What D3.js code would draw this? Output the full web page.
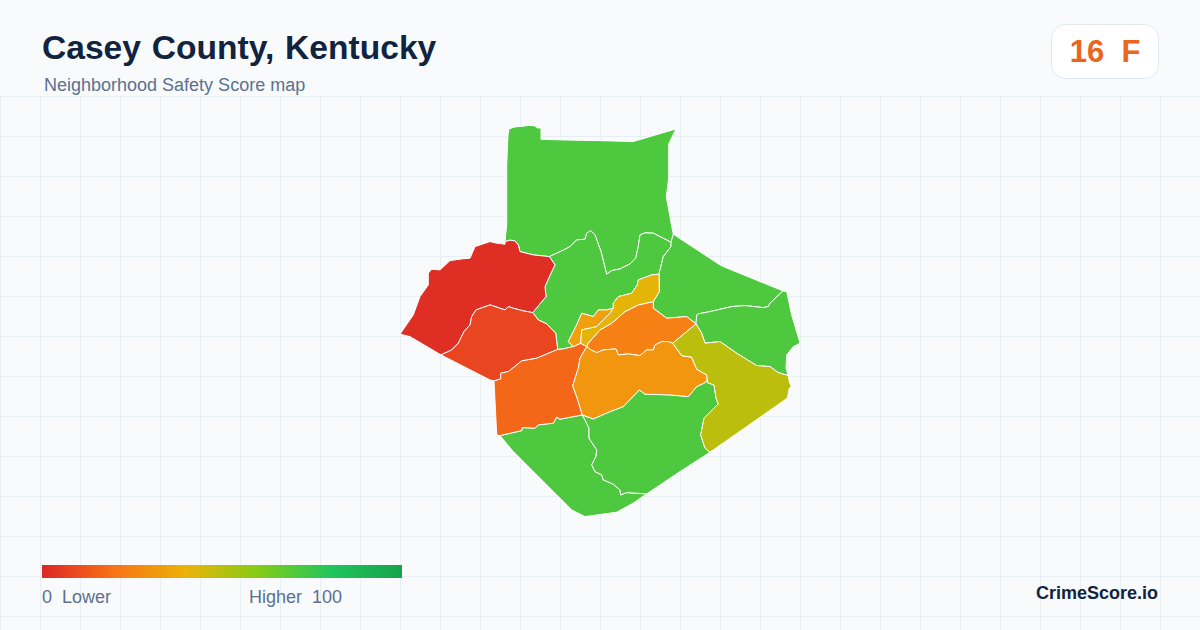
<!DOCTYPE html>
<html>
<head>
<meta charset="utf-8">
<script src="https://cdn.jsdelivr.net/npm/d3@7"></script>
<style>
  html, body { margin: 0; padding: 0; background: #f8fafc; }
  svg { display: block; font-family: "Liberation Sans", Arial, sans-serif; }
  text { white-space: pre; }
</style>
</head>
<body>
<script>
var titleText = 'Casey County, Kentucky';
var subtitleText = 'Neighborhood Safety Score map';
var badgeText = '16  F';
var brandText = 'CrimeScore.io';
var legendLabels = ['0  Lower', 'Higher  100'];

// colour ramp of the score
var rampDomain = [0, 20, 40, 60, 80, 100];
var rampColors = ['#dc2626', '#f97316', '#eab308', '#84cc16', '#22c55e', '#16a34a'];

// shared boundaries, in map units
var arcs = {
  north: [[105,116.7],[106.7,100],[106.7,40],[108,10],[109,4],[115,2],[130,0.5],[135,1],[137,3],[141,3],[141,14.5],[163,15],[210,16],[233,16.7],[276,4],[268.7,19],[268.7,51.7],[267.7,61.7],[266.3,71.7],[272.7,106.7],[273.3,109.3]],
  redTop: [[105,116.7],[110,115.3],[115,116],[118.3,120],[120,126.7],[133.3,130],[149.3,131.7]],
  ab: [[149.3,131.7],[161.7,126],[170,121.7],[176.7,115],[185,114.3],[186.7,108.3],[190.7,105.7],[195,110],[201,126.7],[206.7,149.3],[211.7,145.7],[220,144],[230,139],[235.7,133.3],[238.3,121.7],[240,110],[245,108],[253.3,108.3],[271,117.3]],
  adShort: [[271,117.3],[273.3,109.3]],
  bd: [[271,117.3],[271,121.7],[263.3,131.7],[260,145],[259,149.3]],
  stripNorth: [[259,149.3],[251.7,150],[238.3,155],[237.3,160],[231.7,168.3],[218.3,171.7],[213.3,178.3],[213.3,183.3]],
  ef: [[213.3,183.3],[210,188.3],[196.7,201.7],[181.7,205],[180.7,218.3]],
  eNorth: [[213.3,183.3],[206.7,185],[198.3,185],[193.3,191.7],[181.7,188.3],[176.7,200],[168.3,216.7],[173.3,221.7]],
  eSouth: [[173.3,221.7],[180.7,218.3]],
  fSouth: [[180.7,218.3],[186.7,221.7]],
  gNorth: [[186.7,221.7],[188.3,218.3],[200,205],[211.7,198.3],[225,186.7],[238.3,180],[253.3,176.7]],
  fEast: [[253.3,176.7],[259.3,166.7],[259,149.3]],
  dOuter: [[273.3,109.3],[320,140],[323.3,141.7],[383,166]],
  lOuter: [[383,166],[386.7,166.7],[391.7,190],[400,218.3],[393.3,221.7],[386.7,230],[386,243.3],[388.3,250.7]],
  dl: [[383,166],[370,178.3],[368.3,181.7],[363.3,182.7],[345,180.7],[331.7,181.7],[310,186.7],[298.3,189],[296.7,190],[296,199]],
  gd: [[296,199],[286.7,191.7],[266.7,193.3],[253.3,183.3],[253.3,176.7]],
  lj: [[296,199],[301.7,208.3],[305,218.3],[320,216.7],[336.7,228.3],[356.7,240.7],[370,241.7],[378.3,247.7],[388.3,250.7]],
  jOuter: [[388.3,250.7],[389.3,256.7],[391.3,261.7],[389.3,263.3],[387.3,273.3],[310,327.3]],
  jk: [[310,327.3],[305,323.3],[300.7,310],[304,293.3],[318.3,279],[316,273.3],[314,260],[307.3,257.7],[307.3,255]],
  gj: [[296,199],[272.7,218.3]],
  hj: [[272.7,218.3],[281.7,230.7],[291.7,232.3],[296.7,244.3],[306.7,250],[307.3,255]],
  gh: [[272.7,218.3],[268.3,216.7],[261.7,216.7],[255,220],[253.3,225],[246.7,225],[240,230.7],[228.3,229],[218.3,230],[216,224],[203.3,225],[196.7,227.7],[191,225],[186.7,221.7]],
  hk: [[307.3,255],[305,257.7],[296.7,261.7],[288.3,271.7],[270,270],[245,269.3],[239.3,265],[223.3,281.7],[210,286.7],[193.3,294],[182.3,290]],
  hi: [[186.7,221.7],[180,233.3],[178.3,243.3],[172.7,261],[176.7,271.7],[182.3,290]],
  mi: [[94,256],[100.7,254],[100.7,248.3],[108.3,246.7],[121.7,236],[136.7,233.3],[157.7,224.5]],
  bi: [[157.7,224.5],[163.3,224],[173.3,221.7]],
  nm: [[132.7,187.7],[123.3,186],[113.3,183.3],[108.3,181.7],[105,185],[90,180],[76,185],[71.7,191.7],[70,200],[64,206.7],[58.3,218.3],[51.7,225],[41,230]],
  mOuter: [[41,230],[90,255],[94,256]],
  mb: [[132.7,187.7],[138.3,195],[146.7,199],[155.7,208.3],[157.7,224.5]],
  nb: [[149.3,131.7],[155,140],[151.7,146.7],[145,161.7],[146,171.7],[132.7,187.7]],
  nOuter: [[41,230],[10,211.7],[0,209.3],[13.3,190],[20,171.7],[28.3,160],[28.3,148.3],[31.7,144.3],[40,145],[50,135.7],[61.7,134],[70,133.3],[75,121.7],[80,120],[90,116.7],[96.7,118.3],[105,119.3],[105,116.7]],
  iSouth: [[100,310.7],[121.7,305.7],[122.3,302.7],[135,303.3],[138.3,300],[153.3,298.3],[156.7,292.3],[160,294.3],[182.3,290]],
  iWest: [[94,256],[96.7,310],[100,310.7]],
  ok: [[182.3,290],[185,295],[189,303.3],[189,313.3],[196.7,325],[196,331.7],[191.7,340],[195,346.7],[201.7,350],[203.3,355],[213.3,359.3],[220,365],[220.7,370],[226.7,367.7],[246.7,369]],
  oOuter: [[246.7,369],[233,378.3],[216.7,387.3],[190,391],[185,391.7],[171.7,385],[113.3,326.7],[100,310.7]],
  kOuter: [[310,327.3],[280,346.7],[246.7,369]]
};

// tracts: score and the boundaries going round each, '-' walks one backwards
var tractScores = [71, 71, 71, 71, 71, 71, 2, 8, 17, 24, 31, 34, 41, 49];
var tractRings = [
  'north -adShort -ab -redTop',
  'ab bd stripNorth eNorth -bi -mb -nb',
  'dOuter dl gd fEast -bd adShort',
  'lOuter -lj -dl',
  'iSouth ok oOuter',
  '-hk -jk kOuter -ok',
  'nOuter redTop nb nm',
  'nm mOuter mi -mb',
  'mi bi eSouth fSouth hi -iSouth -iWest',
  'gNorth -gd gj gh',
  '-gh hj hk -hi',
  'eNorth eSouth -ef',
  'stripNorth ef fSouth gNorth fEast',
  'lj jOuter jk -hj -gj'
];

function ringCoords(spec) {
  var coords = [];
  spec.split(' ').forEach(function(name) {
    var back = name.charAt(0) === '-';
    var arc = arcs[back ? name.slice(1) : name].slice();
    if (back) { arc.reverse(); }
    coords = coords.concat(coords.length ? arc.slice(1) : arc);
  });
  return coords;
}

var width = 1200;
var height = 630;
var gridStep = 40;
var gridTop = 96.5;

var color = d3.scaleLinear().domain(rampDomain).range(rampColors);

var svg = d3.select('body').append('svg')
    .attr('width', width)
    .attr('height', height);

svg.append('rect')
    .attr('width', width)
    .attr('height', height)
    .attr('fill', '#f8fafc');

// background grid
var grid = svg.append('g')
    .attr('stroke', '#e8eff3')
    .attr('stroke-width', 1);

grid.selectAll('line.v')
    .data(d3.range(0.5, width, gridStep))
    .enter().append('line')
    .attr('class', 'v')
    .attr('x1', function(d) { return d; })
    .attr('x2', function(d) { return d; })
    .attr('y1', gridTop)
    .attr('y2', height);

grid.selectAll('line.h')
    .data(d3.range(gridTop, height, gridStep))
    .enter().append('line')
    .attr('class', 'h')
    .attr('x1', 0)
    .attr('x2', width)
    .attr('y1', function(d) { return d; })
    .attr('y2', function(d) { return d; });

// map
var features = tractRings.map(function(spec, i) {
  return {
    type: 'Feature',
    properties: { score: tractScores[i] },
    geometry: { type: 'Polygon', coordinates: [ringCoords(spec)] }
  };
});
var collection = { type: 'FeatureCollection', features: features };

var projection = d3.geoIdentity().fitExtent([[400, 125], [800, 517]], collection);
var path = d3.geoPath(projection);

svg.append('g').selectAll('path')
    .data(features)
    .enter().append('path')
    .attr('d', path)
    .attr('fill', function(d) { return color(d.properties.score); })
    .attr('stroke', '#ffffff')
    .attr('stroke-width', 1)
    .attr('stroke-linejoin', 'round');

// header
svg.append('text')
    .attr('x', 42)
    .attr('y', 59)
    .attr('fill', '#10243f')
    .attr('font-size', 33.6)
    .attr('font-weight', 700)
    .attr('word-spacing', 1.5)
    .text(titleText);

svg.append('text')
    .attr('x', 44)
    .attr('y', 91)
    .attr('fill', '#5a7190')
    .attr('font-size', 18)
    .text(subtitleText);

// score badge
svg.append('rect')
    .attr('x', 1051.5)
    .attr('y', 24.5)
    .attr('width', 107)
    .attr('height', 54)
    .attr('rx', 14)
    .attr('fill', '#ffffff')
    .attr('stroke', '#e2e8f0');

svg.append('text')
    .attr('x', 1105)
    .attr('y', 62)
    .attr('text-anchor', 'middle')
    .attr('fill', '#ea651d')
    .attr('font-size', 31)
    .attr('font-weight', 700)
    .text(badgeText);

// legend
var legendX = d3.scaleLinear().domain([0, 100]).range([42, 402]);

var gradient = svg.append('defs').append('linearGradient')
    .attr('id', 'ramp');

gradient.selectAll('stop')
    .data(rampDomain)
    .enter().append('stop')
    .attr('offset', function(d) { return d + '%'; })
    .attr('stop-color', function(d) { return color(d); });

svg.append('rect')
    .attr('x', legendX(0))
    .attr('y', 565)
    .attr('width', legendX(100) - legendX(0))
    .attr('height', 13)
    .attr('fill', 'url(#ramp)');

svg.append('text')
    .attr('x', 42)
    .attr('y', 603)
    .attr('fill', '#5a7190')
    .attr('font-size', 18)
    .text(legendLabels[0]);

svg.append('text')
    .attr('x', 342)
    .attr('y', 603)
    .attr('text-anchor', 'end')
    .attr('fill', '#5a7190')
    .attr('font-size', 18)
    .text(legendLabels[1]);

svg.append('text')
    .attr('x', 1158)
    .attr('y', 599)
    .attr('text-anchor', 'end')
    .attr('fill', '#10243f')
    .attr('font-size', 18)
    .attr('font-weight', 700)
    .text(brandText);
</script>
</body>
</html>
